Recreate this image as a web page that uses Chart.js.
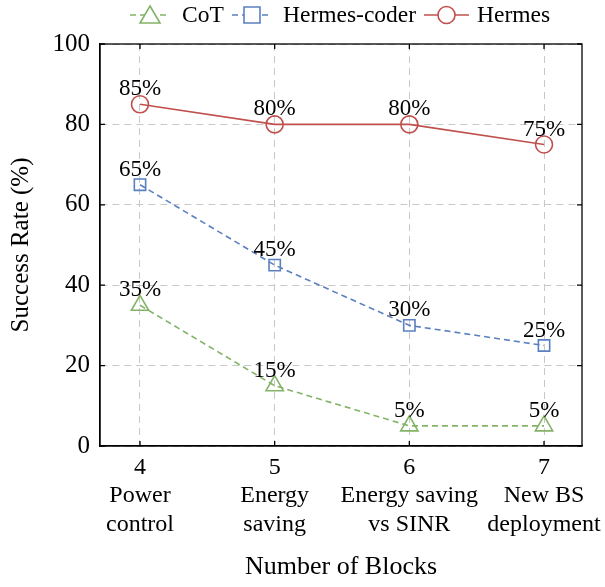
<!DOCTYPE html>
<html>
<head>
<meta charset="utf-8">
<script src="https://cdn.jsdelivr.net/npm/chart.js@4"></script>
<style>
  html, body { margin: 0; padding: 0; background: #fff; }
  #wrap { width: 605px; height: 587px; }
</style>
</head>
<body>
<div id="wrap"><canvas id="chart" width="605" height="587"></canvas></div>
<script>
const blocks = [4, 5, 6, 7];
const taskNames = [['Power', 'control'], ['Energy', 'saving'], ['Energy saving', 'vs SINR'], ['New BS', 'deployment']];
const cotValues = [35, 15, 5, 5];
const coderValues = [65, 45, 30, 25];
const hermesValues = [85, 80, 80, 75];
const yTicks = [0, 20, 40, 60, 80, 100];

const SERIF = '"Liberation Serif", "DejaVu Serif", serif';
const green = '#82b366';
const blue = '#5b80c0';
const red = '#c0504d';

const toPoints = vals => vals.map((v, i) => ({ x: blocks[i], y: v }));

const ctx = document.getElementById('chart').getContext('2d');

// percent labels above each point
const valueLabels = {
  id: 'valueLabels',
  afterDatasetsDraw(chart) {
    const c = chart.ctx;
    c.save();
    c.font = '23px ' + SERIF;
    c.fillStyle = '#000';
    c.textAlign = 'center';
    c.textBaseline = 'alphabetic';
    chart.data.datasets.forEach((ds, di) => {
      chart.getDatasetMeta(di).data.forEach((pt, i) => {
        c.fillText(ds.data[i].y + '%', pt.x, pt.y - 9);
      });
    });
    c.restore();
  }
};

// full box with inward tick marks
const frame = {
  id: 'frame',
  afterDraw(chart) {
    const { left, right, top, bottom } = chart.chartArea;
    const c = chart.ctx;
    c.save();
    c.strokeStyle = '#000';
    c.lineWidth = 1.3;
    c.strokeRect(left, top, right - left, bottom - top);
    const ys = chart.scales.y, xs = chart.scales.x;
    yTicks.forEach(t => {
      const y = ys.getPixelForValue(t);
      c.beginPath();
      c.moveTo(left, y); c.lineTo(left + 5, y);
      c.moveTo(right, y); c.lineTo(right - 5, y);
      c.stroke();
    });
    blocks.forEach(b => {
      const x = xs.getPixelForValue(b);
      c.beginPath();
      c.moveTo(x, bottom); c.lineTo(x, bottom - 5);
      c.moveTo(x, top); c.lineTo(x, top + 5);
      c.stroke();
    });
    c.restore();
  }
};

// pgfplots style legend on top
const topLegend = {
  id: 'topLegend',
  afterDraw(chart) {
    const c = chart.ctx;
    const y = 15;
    const items = [
      { x0: 130, x1: 170, tx: 182, ds: 0 },
      { x0: 232, x1: 272, tx: 283, ds: 1 },
      { x0: 424, x1: 469, tx: 477, ds: 2 }
    ];
    c.save();
    items.forEach(it => {
      const ds = chart.data.datasets[it.ds];
      c.strokeStyle = ds.borderColor;
      c.lineWidth = 1.6;
      c.setLineDash(ds.borderDash || []);
      c.beginPath();
      c.moveTo(it.x0, y); c.lineTo(it.x1, y);
      c.stroke();
      c.setLineDash([]);
      const mx = (it.x0 + it.x1) / 2;
      c.fillStyle = '#fff';
      c.beginPath();
      if (ds.pointStyle === 'triangle') {
        c.moveTo(mx, y - 9); c.lineTo(mx + 10, y + 8); c.lineTo(mx - 10, y + 8); c.closePath();
      } else if (ds.pointStyle === 'rect') {
        c.rect(mx - 8, y - 8, 16, 16);
      } else {
        c.arc(mx, y, 8.5, 0, Math.PI * 2);
      }
      c.fill(); c.stroke();
      c.fillStyle = '#000';
      c.font = '23.5px ' + SERIF;
      c.textBaseline = 'middle';
      c.fillText(ds.label, it.tx, y + 1);
    });
    c.restore();
  }
};

const chart = new Chart(ctx, {
  type: 'line',
  data: {
    datasets: [
      {
        label: 'CoT',
        data: toPoints(cotValues),
        borderColor: green,
        borderDash: [6, 4],
        borderWidth: 1.6,
        pointStyle: 'triangle',
        pointRadius: 10,
        pointBorderWidth: 1.6,
        pointBackgroundColor: 'rgba(255,255,255,0)',
        pointBorderColor: green
      },
      {
        label: 'Hermes-coder',
        data: toPoints(coderValues),
        borderColor: blue,
        borderDash: [6, 4],
        borderWidth: 1.6,
        pointStyle: 'rect',
        pointRadius: 8,
        pointBorderWidth: 1.6,
        pointBackgroundColor: 'rgba(255,255,255,0)',
        pointBorderColor: blue
      },
      {
        label: 'Hermes',
        data: toPoints(hermesValues),
        borderColor: red,
        borderWidth: 1.6,
        pointStyle: 'circle',
        pointRadius: 8.5,
        pointBorderWidth: 1.6,
        pointBackgroundColor: 'rgba(255,255,255,0)',
        pointBorderColor: red
      }
    ]
  },
  options: {
    responsive: false,
    animation: false,
    layout: { padding: { top: 44, right: 23, left: 0, bottom: 0 } },
    plugins: { legend: { display: false }, tooltip: { enabled: false } },
    scales: {
      x: {
        type: 'linear',
        min: 3.703,
        max: 7.282,
        afterBuildTicks: axis => { axis.ticks = blocks.map(v => ({ value: v })); },
        afterFit: axis => { axis.height = 141; axis.paddingLeft = 0; axis.paddingRight = 0; },
        ticks: {
          padding: 7,
          color: '#000',
          font: { family: SERIF, size: 24, lineHeight: 1.2 },
          callback: (v) => {
            const i = blocks.indexOf(v);
            return i < 0 ? '' : [String(v), ...taskNames[i]];
          },
          maxRotation: 0,
          autoSkip: false
        },
        grid: { color: '#c8c8c8', lineWidth: 1, drawTicks: false },
        border: { display: true, color: '#000', width: 1.3, dash: [7, 5] },
        title: {
          display: true,
          text: 'Number of Blocks',
          color: '#000',
          font: { family: SERIF, size: 26 },
          padding: { top: 8 }
        }
      },
      y: {
        min: 0,
        max: 100,
        afterBuildTicks: axis => { axis.ticks = yTicks.map(v => ({ value: v })); },
        afterFit: axis => { axis.width = 100; axis.paddingTop = 0; axis.paddingBottom = 0; },
        ticks: {
          padding: 10,
          color: '#000',
          font: { family: SERIF, size: 25 }
        },
        grid: { color: '#c8c8c8', lineWidth: 1, drawTicks: false },
        border: { display: true, color: '#000', width: 1.3, dash: [7, 5] },
        title: {
          display: true,
          text: 'Success Rate (%)',
          color: '#000',
          font: { family: SERIF, size: 25 },
          padding: { top: 6, bottom: 6 }
        }
      }
    }
  },
  plugins: [valueLabels, frame, topLegend]
});
</script>
</body>
</html>
